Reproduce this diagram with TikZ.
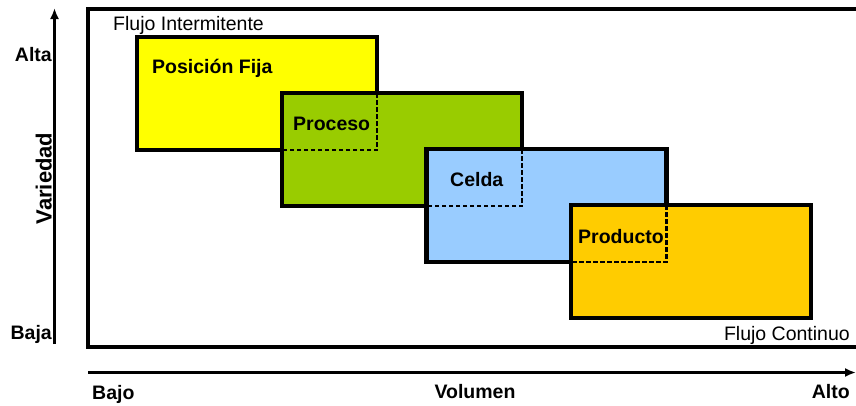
\documentclass[tikz,border=0pt]{standalone}
\usepackage{fontspec}
\setmainfont{Liberation Sans}
\usetikzlibrary{arrows.meta}
\definecolor{cyellow}{HTML}{FFFF00}
\definecolor{cgreen}{HTML}{99CC00}
\definecolor{cblue}{HTML}{99CCFF}
\definecolor{corange}{HTML}{FFCC00}
\tikzset{
  box/.style={draw=black, line width=4.2pt, minimum width=240pt, minimum height=113pt, inner sep=0pt, outer sep=0pt},
  overlap/.style={draw=black, line width=2.3pt, dash pattern=on 4.5pt off 2.5pt},
  frameline/.style={line width=4pt},
  axisline/.style={line width=2.2pt, -{Latex[length=11pt,width=9pt]}},
  boxlabel/.style={font=\fontsize{19.5}{22}\selectfont\bfseries, anchor=base west, inner sep=0pt},
  axislabel/.style={font=\fontsize{19.5}{22}\selectfont\bfseries, inner sep=0pt},
  flowlabel/.style={font=\fontsize{19.5}{22}\selectfont, inner sep=0pt}
}
\begin{document}
\begin{tikzpicture}[x=1pt,y=-1pt]
\useasboundingbox (0,0) rectangle (856,405);
% frame
\coordinate (ftr) at (856,8.5);
\coordinate (ftl) at (88,8.5);
\coordinate (fbl) at (88,346.5);
\coordinate (fbr) at (856,346.5);
\draw[frameline] (ftr) -- (ftl) -- (fbl) -- (fbr);
% axes
\coordinate (vbot) at (54.5,344);
\coordinate (vtop) at (54.5,8);
\draw[axisline] (vbot) -- (vtop);
\coordinate (hleft) at (88,372.5);
\coordinate (hright) at (856,372.5);
\draw[axisline] (hleft) -- (hright);
% boxes
\node[box, fill=cyellow] (yellow) at (257,93.5) {};
\node[box, fill=cgreen] (green) at (402,149.5) {};
\draw[overlap] (yellow.east |- green.north) -- (yellow.south east) -- (yellow.south -| green.west);
\node[box, fill=cblue] (blue) at (546.5,205.5) {};
\draw[overlap] (green.east |- blue.north) -- (green.south east) -- (green.south -| blue.west);
\node[box, fill=corange] (orange) at (691,261.5) {};
\draw[overlap] (blue.east |- orange.north) -- (blue.south east) -- (blue.south -| orange.west);
% box labels
\node[boxlabel] (lyellow) at (152,73) {Posición Fija};
\node[boxlabel] (lgreen) at (293,130) {Proceso};
\node[boxlabel] (lblue) at (450,186) {Celda};
\node[boxlabel] (lorange) at (578,243) {Producto};
% flow labels
\node[flowlabel, anchor=base west] (fint) at (113,30) {Flujo Intermitente};
\node[flowlabel, anchor=base east] (fcont) at (850,340) {Flujo Continuo};
% axis labels
\node[axislabel, anchor=base east] (alta) at (52,61.5) {Alta};
\node[axislabel, anchor=base east] (baja) at (52,339.5) {Baja};
\node[axislabel, anchor=base, rotate=90, font=\fontsize{22}{24}\selectfont\bfseries] (variedad) at (51.5,178.5) {Variedad};
\node[axislabel, anchor=base west] (bajo) at (92,399) {Bajo};
\node[axislabel, anchor=base] (volumen) at (475,398) {Volumen};
\node[axislabel, anchor=base east] (alto) at (850,398) {Alto};
\end{tikzpicture}
\end{document}
